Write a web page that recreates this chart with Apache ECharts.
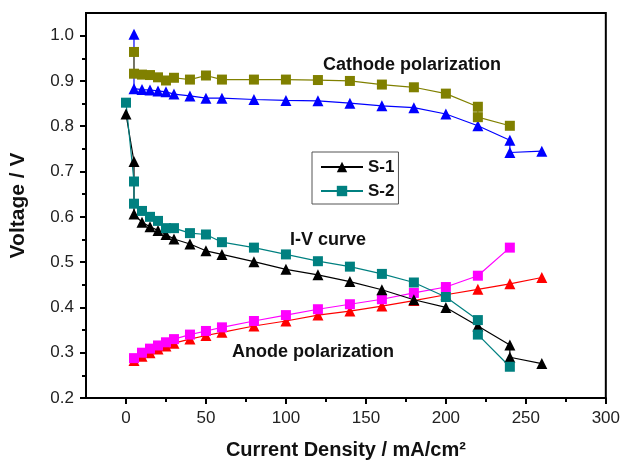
<!DOCTYPE html>
<html>
<head>
<meta charset="utf-8">
<script src="https://cdn.jsdelivr.net/npm/echarts@6/dist/echarts.min.js"></script>
<style>
  html, body { margin: 0; padding: 0; background: #fff; }
  #chart { width: 623px; height: 465px; }
</style>
</head>
<body>
<div id="chart"></div>
<script>
// values: [current density mA/cm2, voltage V]
const cathodeS1 = [[5, 1.003], [5, 0.883], [10, 0.881], [15, 0.880], [20, 0.878], [25, 0.876], [30, 0.871], [40, 0.867], [50, 0.862], [60, 0.862], [80, 0.859], [100, 0.857], [120, 0.856], [140, 0.851], [160, 0.845], [180, 0.841], [200, 0.827], [220, 0.801], [240, 0.769], [240, 0.742], [260, 0.745]];
const cathodeS2 = [[5, 0.964], [5, 0.916], [10, 0.914], [15, 0.913], [20, 0.908], [25, 0.901], [30, 0.907], [40, 0.903], [50, 0.912], [60, 0.903], [80, 0.903], [100, 0.903], [120, 0.902], [140, 0.900], [160, 0.892], [180, 0.886], [200, 0.872], [220, 0.843], [220, 0.820], [240, 0.801]];
const ivS1 = [[0, 0.827], [5, 0.722], [5, 0.606], [10, 0.588], [15, 0.578], [20, 0.570], [25, 0.561], [30, 0.551], [40, 0.540], [50, 0.525], [60, 0.517], [80, 0.501], [100, 0.484], [120, 0.472], [140, 0.457], [160, 0.439], [180, 0.417], [200, 0.400], [220, 0.359], [240, 0.317], [240, 0.290], [260, 0.276]];
const ivS2 = [[0, 0.852], [5, 0.678], [5, 0.629], [10, 0.613], [15, 0.600], [20, 0.591], [25, 0.575], [30, 0.575], [40, 0.564], [50, 0.561], [60, 0.544], [80, 0.532], [100, 0.517], [120, 0.502], [140, 0.490], [160, 0.474], [180, 0.455], [200, 0.423], [220, 0.372], [220, 0.340], [240, 0.269]];
const anodeS1 = [[5, 0.283], [10, 0.292], [15, 0.300], [20, 0.308], [25, 0.315], [30, 0.321], [40, 0.330], [50, 0.338], [60, 0.345], [80, 0.359], [100, 0.370], [120, 0.383], [140, 0.392], [160, 0.403], [180, 0.415], [200, 0.428], [220, 0.440], [240, 0.452], [260, 0.466]];
const anodeS2 = [[5, 0.288], [10, 0.300], [15, 0.309], [20, 0.316], [25, 0.323], [30, 0.330], [40, 0.340], [50, 0.348], [60, 0.356], [80, 0.370], [100, 0.383], [120, 0.396], [140, 0.407], [160, 0.418], [180, 0.432], [200, 0.445], [220, 0.470], [240, 0.532]];

const xMajor = [0, 50, 100, 150, 200, 250, 300];
const xMinor = [25, 75, 125, 175, 225, 275];
const yMajor = [0.2, 0.3, 0.4, 0.5, 0.6, 0.7, 0.8, 0.9, 1.0];
const yMinor = [0.25, 0.35, 0.45, 0.55, 0.65, 0.75, 0.85, 0.95];

const FONT = 'Liberation Sans, Arial, sans-serif';

function makeSeries(name, data, color, symbol, size) {
    return {
        name, type: 'line', data,
        symbol, symbolSize: size,
        lineStyle: { width: 1.2, color },
        itemStyle: { color },
        animation: false,
    };
}

const chart = echarts.init(document.getElementById('chart'), null, { renderer: 'canvas' });
chart.setOption({
    backgroundColor: '#fff',
    textStyle: { fontFamily: FONT },
    grid: { left: 81, right: 17, top: 13, bottom: 62, show: true, borderColor: '#000', borderWidth: 2 },
    legend: {
        data: ['S-1', 'S-2'],
        orient: 'vertical',
        left: 312, top: 152,
        padding: [6, 4, 4, 8],
        itemWidth: 42, itemHeight: 13, itemGap: 6,
        borderColor: '#555', borderWidth: 1,
        textStyle: { fontFamily: FONT, fontSize: 17, fontWeight: 'bold', color: '#111', lineHeight: 18 },
    },
    xAxis: [
        {
            type: 'value', min: -25, max: 300,
            name: 'Current Density / mA/cm²', nameLocation: 'middle', nameGap: 42,
            nameTextStyle: { fontFamily: FONT, fontSize: 20, fontWeight: 'bold', color: '#111' },
            axisLine: { onZero: false, lineStyle: { color: '#000', width: 2 } },
            axisTick: { customValues: xMajor, length: 6, lineStyle: { color: '#000', width: 2 } },
            axisLabel: { customValues: xMajor, margin: 12, fontSize: 17, color: '#222', fontFamily: FONT },
            splitLine: { show: false },
        },
        {
            type: 'value', min: -25, max: 300, position: 'bottom',
            axisLine: { show: false, onZero: false },
            axisTick: { customValues: xMinor, length: 4, lineStyle: { color: '#000', width: 2 } },
            axisLabel: { show: false },
            splitLine: { show: false },
        },
    ],
    yAxis: [
        {
            type: 'value', min: 0.2, max: 1.05,
            name: 'Voltage / V', nameLocation: 'middle', nameGap: 57, nameRotate: 90,
            nameTextStyle: { fontFamily: FONT, fontSize: 21, fontWeight: 'bold', color: '#111' },
            axisLine: { onZero: false, lineStyle: { color: '#000', width: 2 } },
            axisTick: { customValues: yMajor, length: 6, lineStyle: { color: '#000', width: 2 } },
            axisLabel: { customValues: yMajor, margin: 12, fontSize: 17, color: '#222', fontFamily: FONT, formatter: v => v.toFixed(1) },
            splitLine: { show: false },
        },
        {
            type: 'value', min: 0.2, max: 1.05, position: 'left',
            axisLine: { show: false, onZero: false },
            axisTick: { customValues: yMinor, length: 4, lineStyle: { color: '#000', width: 2 } },
            axisLabel: { show: false },
            splitLine: { show: false },
        },
    ],
    graphic: [
        { type: 'text', style: { text: 'Cathode polarization', x: 412, y: 65, align: 'center', verticalAlign: 'middle', font: 'bold 18px ' + FONT, fill: '#111' } },
        { type: 'text', style: { text: 'I-V curve', x: 328, y: 240, align: 'center', verticalAlign: 'middle', font: 'bold 18px ' + FONT, fill: '#111' } },
        { type: 'text', style: { text: 'Anode polarization', x: 313, y: 352, align: 'center', verticalAlign: 'middle', font: 'bold 18px ' + FONT, fill: '#111' } },
    ],
    series: [
        makeSeries('Anode S-1', anodeS1, '#ff0000', 'triangle', 11),
        makeSeries('Anode S-2', anodeS2, '#ff00ff', 'rect', 10),
        makeSeries('S-1', ivS1, '#000000', 'triangle', 11),
        makeSeries('S-2', ivS2, '#008080', 'rect', 10),
        makeSeries('Cathode S-1', cathodeS1, '#0000ff', 'triangle', 11),
        makeSeries('Cathode S-2', cathodeS2, '#808000', 'rect', 10),
    ],
});
</script>
</body>
</html>
